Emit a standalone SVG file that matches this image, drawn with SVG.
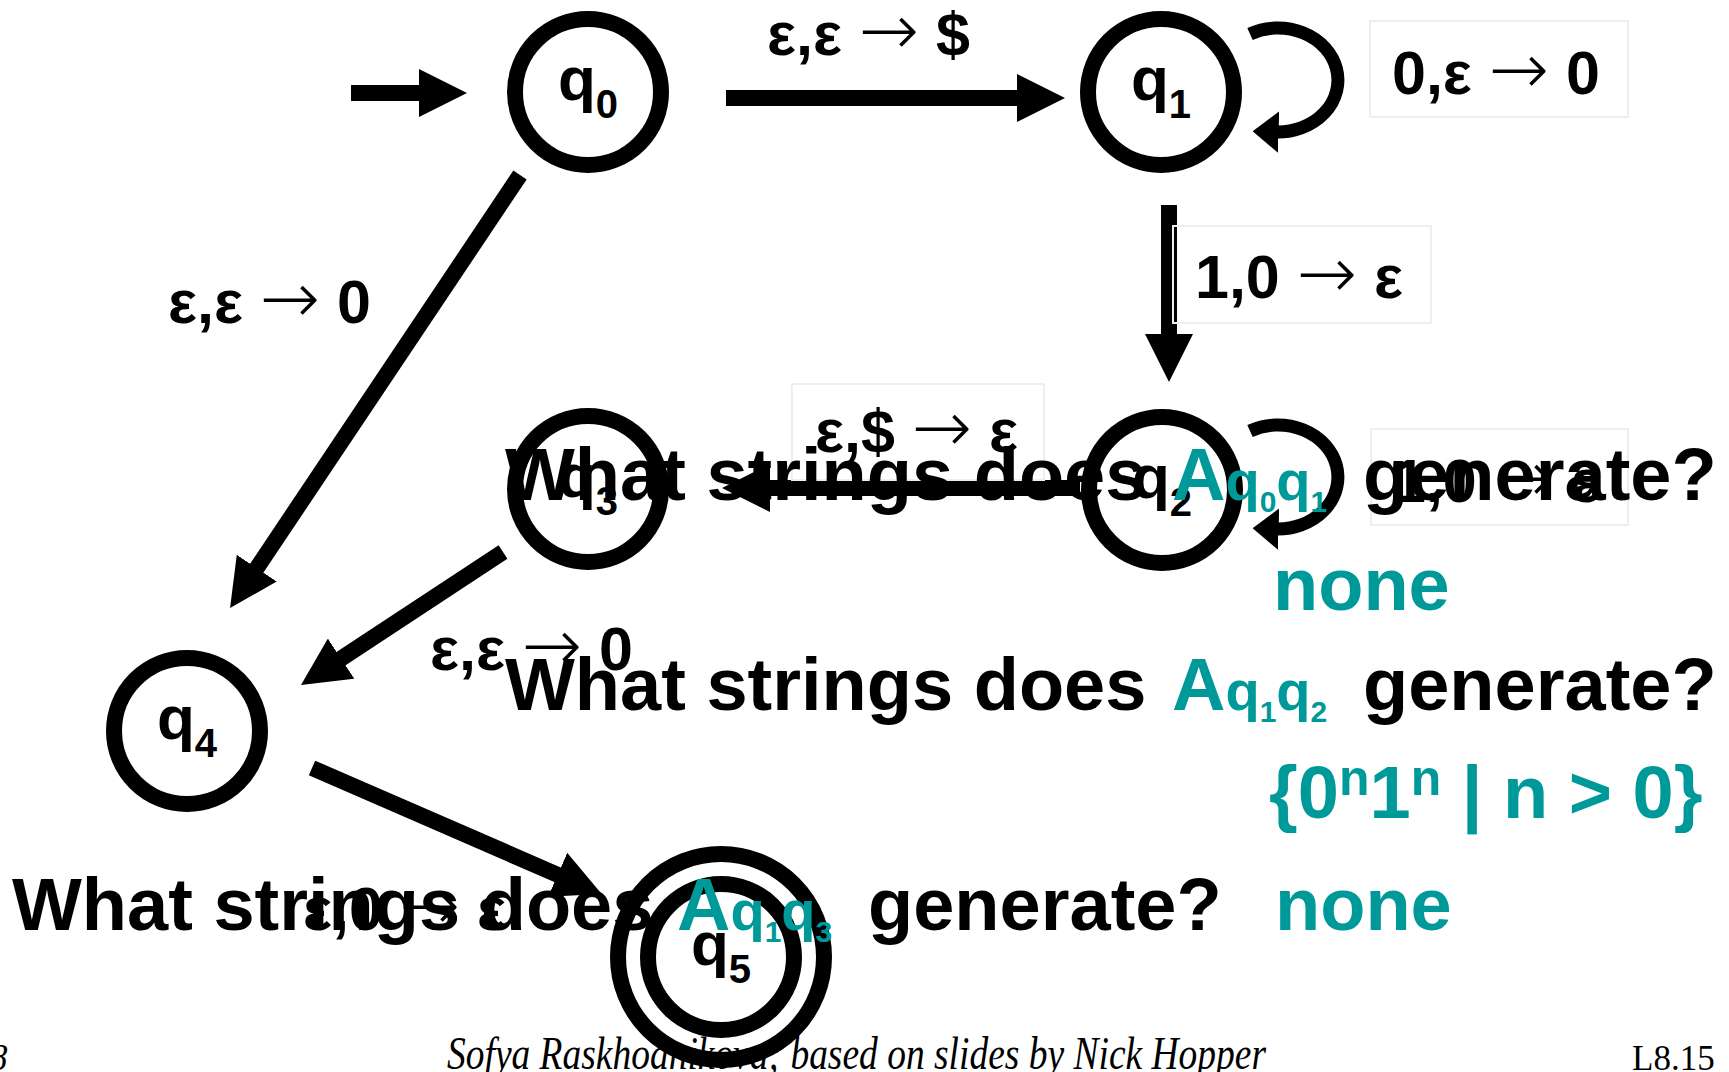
<svg xmlns="http://www.w3.org/2000/svg" width="1729" height="1072" viewBox="0 0 1729 1072">
<style>
  .node { fill: none; stroke: #000; stroke-width: 16; }
  .edge { fill: none; stroke: #000; stroke-width: 16; }
  .loop { fill: none; stroke: #000; stroke-width: 13; }
  .nl { font-family: "Liberation Sans", Arial, sans-serif; font-weight: bold; font-size: 62px; fill: #000; text-anchor: middle; }
  .lab { font-family: "Liberation Sans", Arial, sans-serif; font-weight: bold; font-size: 61px; fill: #000; }
  .ar { font-family: "DejaVu Sans", sans-serif; font-weight: 200; font-size: 72px; }
  .box { fill: none; stroke: #eeeeee; stroke-width: 2; }
  .q { font-family: "Liberation Sans", Arial, sans-serif; font-weight: bold; font-size: 74px; fill: #000; }
  .teal { fill: #009999; }
  .foot { font-family: "Liberation Serif", "Times New Roman", serif; fill: #000; }
</style>
<defs>
  <marker id="ah" viewBox="0 0 3 3" refX="0.5" refY="1.5" markerWidth="3" markerHeight="3" orient="auto" markerUnits="strokeWidth">
    <path d="M0,0 L3,1.5 L0,3 z" fill="#000"/>
  </marker>
  <marker id="ahs" viewBox="0 0 2 3.2" refX="0.2" refY="1.6" markerWidth="2" markerHeight="3.2" orient="auto" markerUnits="strokeWidth">
    <path d="M0,0 L2,1.6 L0,3.2 z" fill="#000"/>
  </marker>
</defs>
<rect width="1729" height="1072" fill="#fff"/>

<g id="connectors">
  <line class="edge" x1="351" y1="93" x2="427" y2="93" marker-end="url(#ah)"/>
  <line class="edge" x1="726" y1="98" x2="1025" y2="98" marker-end="url(#ah)"/>
  <line class="edge" x1="1169" y1="205" x2="1169" y2="342" marker-end="url(#ah)"/>
  <line class="edge" x1="1080" y1="488" x2="762" y2="488" marker-end="url(#ah)"/>
  <line class="edge" x1="520" y1="175" x2="252.3" y2="574.8" marker-end="url(#ah)"/>
  <line class="edge" x1="503" y1="552" x2="334.4" y2="663" marker-end="url(#ah)"/>
  <line class="edge" x1="312" y1="768" x2="565" y2="878" marker-end="url(#ah)"/>
  <path class="loop" d="M1250,34 A 60 52 0 1 1 1276,132" marker-end="url(#ahs)"/>
  <path class="loop" d="M1250,431 A 60 52 0 1 1 1276,529" marker-end="url(#ahs)"/>

  <rect class="box" x="1370" y="21" width="258" height="96"/>
  <rect class="box" x="1173" y="226" width="258" height="97"/>
  <rect class="box" x="792" y="384" width="252" height="96"/>
  <rect class="box" x="1371" y="429" width="257" height="96"/>

  <text class="lab" x="767" y="55">ε,ε <tspan class="ar">→</tspan> $</text>
  <text class="lab" x="1392" y="94">0,ε <tspan class="ar">→</tspan> 0</text>
  <text class="lab" x="1195" y="298">1,0 <tspan class="ar">→</tspan> ε</text>
  <text class="lab" x="168" y="323">ε,ε <tspan class="ar">→</tspan> 0</text>
  <text class="lab" x="815" y="452">ε,$ <tspan class="ar">→</tspan> ε</text>
  <text class="lab" x="1392" y="502">1,0 <tspan class="ar">→</tspan> ε</text>
  <text class="lab" x="430" y="670">ε,ε <tspan class="ar">→</tspan> 0</text>
  <text class="lab" x="303" y="930">ε,0 <tspan class="ar">→</tspan> ε</text>
</g>

<g id="q0">
  <circle class="node" cx="588" cy="92" r="73"/>
  <text class="nl" x="588" y="100">q<tspan font-size="40" dy="18">0</tspan></text>
</g>
<g id="q1">
  <circle class="node" cx="1161" cy="92" r="73"/>
  <text class="nl" x="1161" y="100">q<tspan font-size="40" dy="18">1</tspan></text>
</g>
<g id="q2">
  <circle class="node" cx="1162" cy="490" r="73"/>
  <text class="nl" x="1162" y="498">q<tspan font-size="40" dy="18">2</tspan></text>
</g>
<g id="q3">
  <circle class="node" cx="588" cy="489" r="73"/>
  <text class="nl" x="588" y="497">q<tspan font-size="40" dy="18">3</tspan></text>
</g>
<g id="q4">
  <circle class="node" cx="187" cy="731" r="73"/>
  <text class="nl" x="187" y="739">q<tspan font-size="40" dy="18">4</tspan></text>
</g>
<g id="q5">
  <circle class="node" cx="721" cy="957" r="103"/>
  <circle class="node" cx="721" cy="957" r="73"/>
  <text class="nl" x="721" y="965">q<tspan font-size="40" dy="18">5</tspan></text>
</g>

<g id="questions">
  <text class="q" x="505" y="500">What strings does</text>
  <text class="q teal" x="1172" y="500">A<tspan font-size="56">q</tspan><tspan font-size="30" dy="12">0</tspan><tspan font-size="56" dy="-12">q</tspan><tspan font-size="30" dy="12">1</tspan></text>
  <text class="q" x="1363" y="500">generate?</text>
  <text class="q teal" x="1273" y="610">none</text>

  <text class="q" x="505" y="710">What strings does</text>
  <text class="q teal" x="1172" y="710">A<tspan font-size="56">q</tspan><tspan font-size="30" dy="12">1</tspan><tspan font-size="56" dy="-12">q</tspan><tspan font-size="30" dy="12">2</tspan></text>
  <text class="q" x="1363" y="710">generate?</text>
  <text class="q teal" x="1269" y="818">{0<tspan font-size="50" dy="-23">n</tspan><tspan dy="23">1</tspan><tspan font-size="50" dy="-23">n</tspan><tspan dy="23"> | n &gt; 0}</tspan></text>

  <text class="q" x="12" y="930">What strings does</text>
  <text class="q teal" x="677" y="930">A<tspan font-size="56">q</tspan><tspan font-size="30" dy="12">1</tspan><tspan font-size="56" dy="-12">q</tspan><tspan font-size="30" dy="12">3</tspan></text>
  <text class="q" x="868" y="930">generate?</text>
  <text class="q teal" x="1275" y="930">none</text>
</g>

<g id="footer">
  <text class="foot" x="-11" y="1070" font-size="37" font-style="italic">8</text>
  <text class="foot" x="447" y="1069" font-size="46" font-style="italic" textLength="819" lengthAdjust="spacingAndGlyphs">Sofya Raskhodnikova; based on slides by Nick Hopper</text>
  <text class="foot" x="1632" y="1070" font-size="35">L8.15</text>
</g>
</svg>
